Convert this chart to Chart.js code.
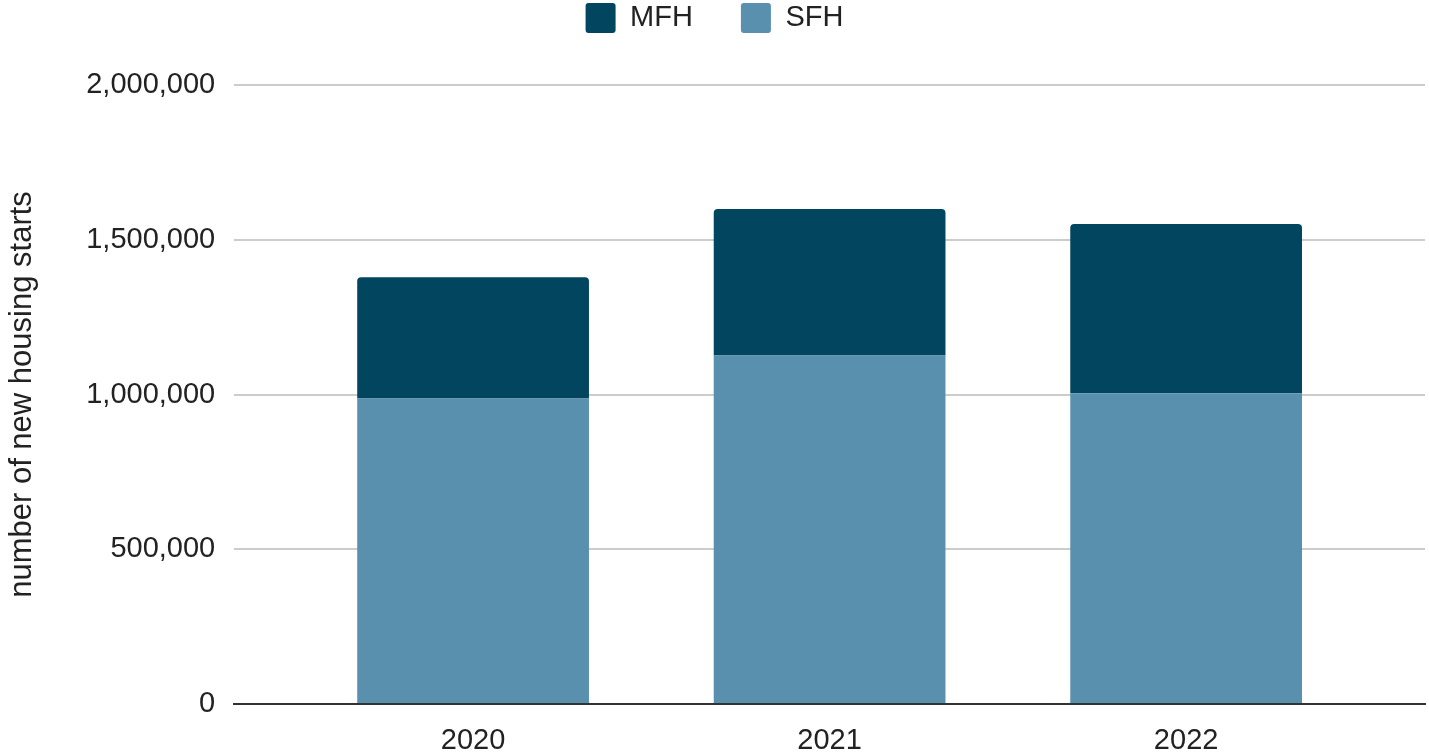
<!DOCTYPE html>
<html>
<head>
<meta charset="utf-8">
<script src="https://cdn.jsdelivr.net/npm/chart.js@4.4.1/dist/chart.umd.min.js"></script>
<style>
  html, body { margin: 0; padding: 0; background: #fff; }
  #wrap { width: 1429px; height: 752px; }
</style>
</head>
<body>
<div id="wrap"><canvas id="myChart"></canvas></div>
<script>
// years and new housing starts
var years = [2020, 2021, 2022];
var sfh = [987000, 1126000, 1004000];
var mfh = [392000, 473000, 547000];
var yTicks = [0, 500000, 1000000, 1500000, 2000000];

var colorMFH = '#02455f';
var colorSFH = '#5890ae';

Chart.defaults.font.family = "'Liberation Sans', Arial, sans-serif";
Chart.defaults.color = '#222';

var data = {
  datasets: [
    {
      label: 'SFH',
      data: years.map((y, i) => ({ x: y, y: sfh[i] })),
      backgroundColor: colorSFH,
      borderRadius: 0
    },
    {
      label: 'MFH',
      data: years.map((y, i) => ({ x: y, y: mfh[i] })),
      backgroundColor: colorMFH,
      borderRadius: { topLeft: 4, topRight: 4 },
      borderSkipped: false
    }
  ]
};

// push the plot down a bit under the legend
var legendGap = {
  id: 'legendGap',
  beforeInit(chart) {
    var fit = chart.legend.fit;
    chart.legend.fit = function () {
      fit.bind(chart.legend)();
      this.height += 42;
    };
  }
};

var config = {
  type: 'bar',
  data: data,
  options: {
    responsive: true,
    maintainAspectRatio: false,
    animation: false,
    layout: { padding: { top: -45, right: 4, bottom: -25, left: 4 } },
    datasets: {
      bar: { barPercentage: 1, categoryPercentage: 0.65 }
    },
    plugins: {
      tooltip: { enabled: false },
      legend: {
        position: 'top',
        reverse: true,
        labels: {
          font: { size: 29 },
          color: '#222',
          boxWidth: 30,
          boxHeight: 30,
          useBorderRadius: true,
          borderRadius: 3,
          padding: 48
        }
      }
    },
    scales: {
      x: {
        type: 'linear',
        stacked: true,
        offset: false,
        min: 2019.33,
        max: 2022.67,
        grid: { display: false, drawTicks: false },
        border: { display: true, color: '#333', width: 2 },
        ticks: {
          includeBounds: false,
          stepSize: 1,
          font: { size: 29, lineHeight: 1 },
          color: '#222',
          padding: 22,
          callback: v => String(v)
        }
      },
      y: {
        stacked: true,
        min: 0,
        max: 2000000,
        afterBuildTicks: axis => { axis.ticks = yTicks.map(v => ({ value: v })); },
        grid: { color: '#cccccc', lineWidth: 2, drawTicks: false },
        border: { display: false },
        ticks: {
          font: { size: 29 },
          color: '#222',
          padding: 19,
          callback: v => v.toLocaleString('en-US')
        },
        title: {
          display: true,
          text: 'number of new housing starts',
          font: { size: 31 },
          color: '#222',
          padding: { top: 0, bottom: 26 }
        }
      }
    }
  },
  plugins: [legendGap]
};

var myChart = new Chart(document.getElementById('myChart'), config);
</script>
</body>
</html>
